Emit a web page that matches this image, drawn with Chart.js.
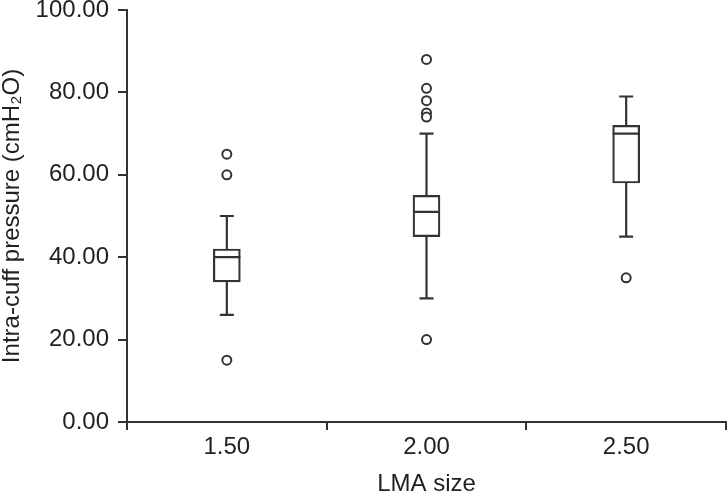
<!DOCTYPE html>
<html>
<head>
<meta charset="utf-8">
<script src="https://cdn.jsdelivr.net/npm/chart.js@4"></script>
<style>
  html, body { margin: 0; padding: 0; background: #fff; overflow: hidden; }
  canvas { display: block; }
</style>
</head>
<body>
<canvas id="box-chart" width="727" height="496"></canvas>
<script>
// LMA size groups
const sizes = ['1.50', '2.00', '2.50'];
// box plot summary per group (cmH2O)
const whiskerLow = [26, 30, 45];
const q1 = [34, 45, 58];
const median = [40, 51, 70];
const q3 = [42, 55, 72];
const whiskerHigh = [50, 70, 79];
// outlier circles per group
const outliers = [
  [65, 60, 15],
  [88, 81, 78, 75, 74, 20],
  [35],
];
const yTicks = [0, 20, 40, 60, 80, 100];

const ink = '#333';
const txt = '#231f20';
const font = {family: '"Liberation Sans", Arial, sans-serif', size: 24};

const outlierPoints = [];
outliers.forEach((list, i) => {
  list.forEach((v) => outlierPoints.push({x: sizes[i], y: v}));
});

// median line and whiskers, drawn from the scales
const boxExtras = {
  id: 'boxExtras',
  afterDatasetsDraw(chart) {
    const {ctx, scales} = chart;
    const x = scales.x;
    const y = scales.y;
    const half = 13.5; // half box width
    const cap = 7;     // half whisker cap
    ctx.save();
    ctx.strokeStyle = ink;
    ctx.lineWidth = 2.2;
    sizes.forEach((s, i) => {
      const cx = x.getPixelForValue(i);
      ctx.beginPath();
      // median
      ctx.moveTo(cx - half, y.getPixelForValue(median[i]));
      ctx.lineTo(cx + half, y.getPixelForValue(median[i]));
      // upper whisker
      ctx.moveTo(cx, y.getPixelForValue(q3[i]));
      ctx.lineTo(cx, y.getPixelForValue(whiskerHigh[i]));
      ctx.moveTo(cx - cap, y.getPixelForValue(whiskerHigh[i]));
      ctx.lineTo(cx + cap, y.getPixelForValue(whiskerHigh[i]));
      // lower whisker
      ctx.moveTo(cx, y.getPixelForValue(q1[i]));
      ctx.lineTo(cx, y.getPixelForValue(whiskerLow[i]));
      ctx.moveTo(cx - cap, y.getPixelForValue(whiskerLow[i]));
      ctx.lineTo(cx + cap, y.getPixelForValue(whiskerLow[i]));
      ctx.stroke();
    });
    ctx.restore();
  },
};

new Chart(document.getElementById('box-chart'), {
  type: 'bar',
  data: {
    labels: sizes,
    datasets: [
      {
        label: 'IQR',
        data: sizes.map((s, i) => [q1[i], q3[i]]),
        backgroundColor: '#fff',
        borderColor: ink,
        borderWidth: 2.2,
        borderSkipped: false,
        barThickness: 27,
        order: 2,
      },
      {
        type: 'line',
        label: 'outliers',
        data: outlierPoints,
        showLine: false,
        pointRadius: 4.5,
        pointBackgroundColor: '#fff',
        pointBorderColor: ink,
        pointBorderWidth: 2,
        order: 1,
      },
    ],
  },
  options: {
    responsive: false,
    animation: false,
    layout: {autoPadding: false, padding: {top: 10, right: 1, left: 0, bottom: 0}},
    plugins: {
      legend: {display: false},
      tooltip: {enabled: false},
    },
    scales: {
      x: {
        offset: true,
        grid: {offset: true, drawOnChartArea: false, color: ink, lineWidth: 2, tickLength: 8},
        border: {color: ink, width: 2},
        ticks: {color: txt, font: font, padding: 3},
        title: {display: true, text: 'LMA size', color: txt, font: {...font, lineHeight: 1}, padding: 0},
        afterFit(s) { s.height = 74; s.paddingLeft = 0; s.paddingRight = 0; },
      },
      y: {
        min: 0,
        max: 100,
        afterBuildTicks(s) { s.ticks = yTicks.map((v) => ({value: v})); },
        grid: {drawOnChartArea: false, color: ink, lineWidth: 2, tickLength: 9},
        border: {color: ink, width: 2},
        ticks: {color: txt, font: font, padding: 9, callback: (v) => Number(v).toFixed(2)},
        title: {display: true, text: 'Intra-cuff pressure (cmH₂O)', color: txt, font: {...font, lineHeight: 1}, padding: 0},
        afterFit(s) { s.width = 127; s.paddingTop = 0; },
      },
    },
  },
  plugins: [boxExtras],
});
</script>
</body>
</html>
